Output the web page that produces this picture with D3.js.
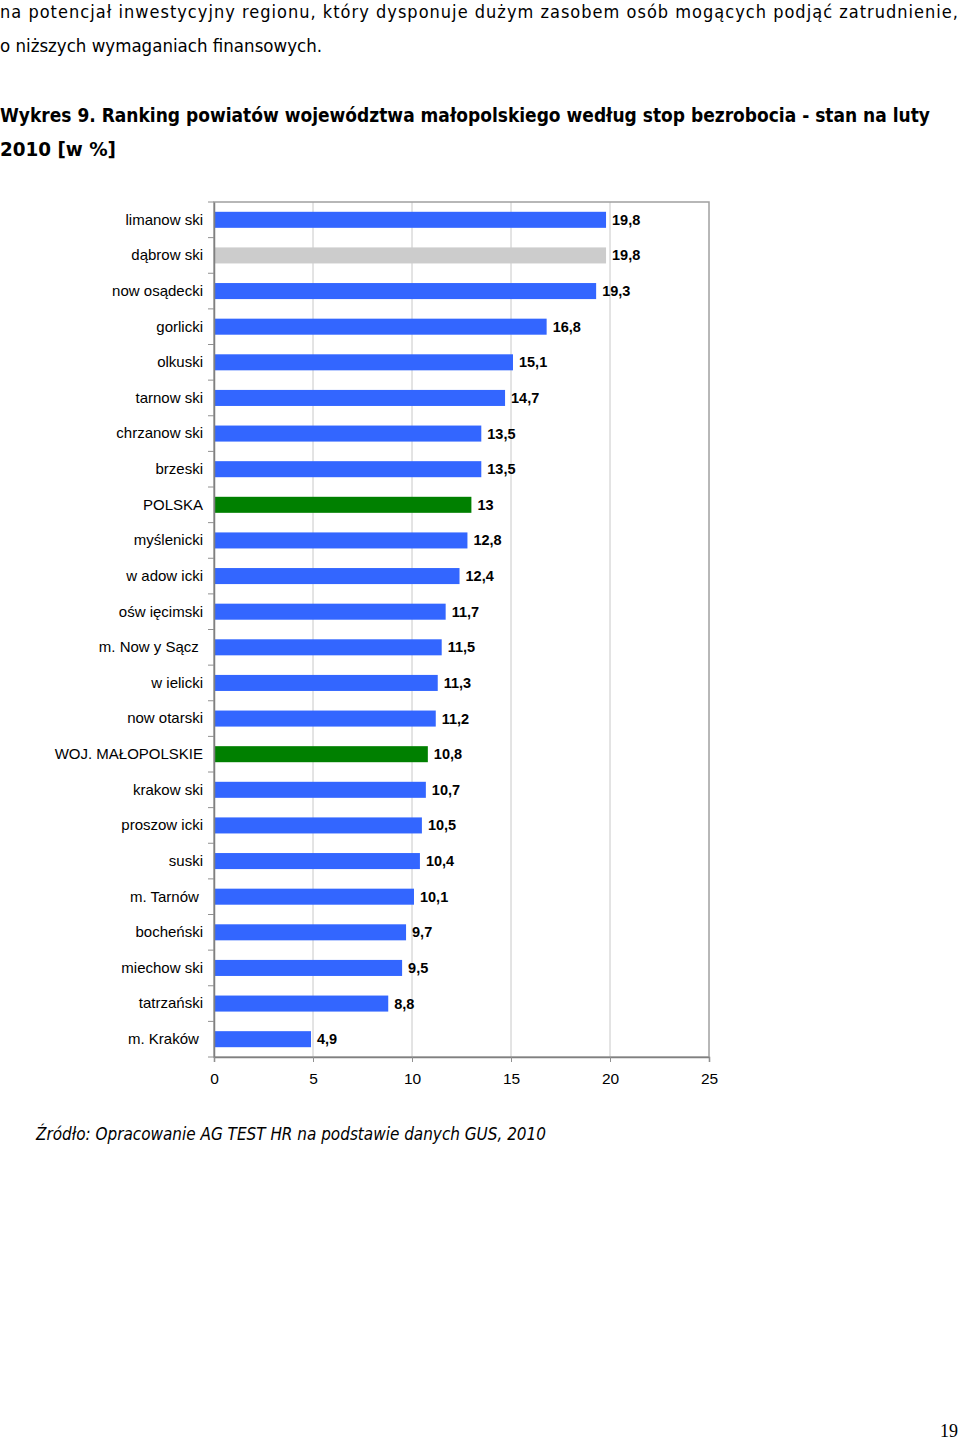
<!DOCTYPE html>
<html><head><meta charset="utf-8">
<script src="https://cdn.jsdelivr.net/npm/d3@7"></script>
<style>body{margin:0;background:#fff}svg{display:block}</style>
</head><body>
<script>
const categories = ["limanow ski","dąbrow ski","now osądecki","gorlicki","olkuski","tarnow ski","chrzanow ski","brzeski","POLSKA","myślenicki","w adow icki","ośw ięcimski","m. Now y Sącz ","w ielicki","now otarski","WOJ. MAŁOPOLSKIE","krakow ski","proszow icki","suski","m. Tarnów ","bocheński","miechow ski","tatrzański","m. Kraków "];
const values = [19.8,19.8,19.3,16.8,15.1,14.7,13.5,13.5,13,12.8,12.4,11.7,11.5,11.3,11.2,10.8,10.7,10.5,10.4,10.1,9.7,9.5,8.8,4.9];
const valueLabels = ["19,8","19,8","19,3","16,8","15,1","14,7","13,5","13,5","13","12,8","12,4","11,7","11,5","11,3","11,2","10,8","10,7","10,5","10,4","10,1","9,7","9,5","8,8","4,9"];
const barKind = ["p","d","p","p","p","p","p","p","c","p","p","p","p","p","p","c","p","p","p","p","p","p","p","p"];
const xTicks = [0,5,10,15,20,25];
const colors = {p:"#3366ff", d:"#cccccc", c:"#008000"};

const svg = d3.select("body").append("svg").attr("width",960).attr("height",1440);

// body text
const tf = "Tahoma, 'DejaVu Sans Condensed', 'DejaVu Sans', sans-serif";
svg.append("text").attr("x",0).attr("y",18).attr("font-family",tf).attr("font-size",18)
  .attr("textLength",958).attr("lengthAdjust","spacing").attr("fill","#000")
  .text("na potencjał inwestycyjny regionu, który dysponuje dużym zasobem osób mogących podjąć zatrudnienie,");
svg.append("text").attr("x",0).attr("y",52).attr("font-family",tf).attr("font-size",18)
  .attr("textLength",322).attr("lengthAdjust","spacingAndGlyphs").attr("fill","#000")
  .text("o niższych wymaganiach finansowych.");
svg.append("text").attr("x",0).attr("y",122).attr("font-family",tf).attr("font-size",19).attr("font-weight","bold")
  .attr("textLength",930).attr("lengthAdjust","spacingAndGlyphs")
  .text("Wykres 9. Ranking powiatów województwa małopolskiego według stop bezrobocia - stan na luty");
svg.append("text").attr("x",0).attr("y",156).attr("font-family",tf).attr("font-size",19).attr("font-weight","bold")
  .attr("textLength",116).attr("lengthAdjust","spacingAndGlyphs")
  .text("2010 [w %]");

// chart
const pL=214, pR=709, pT=202, pB=1057;
const x = d3.scaleLinear().domain([0,25]).range([pL,pR]);
const y = d3.scaleBand().domain(categories).range([pT,pB]).paddingInner(0.55).paddingOuter(0.275);
const af = "Arial, 'Liberation Sans', sans-serif";

// gridlines
svg.append("g").selectAll("line").data(xTicks.slice(1,-1)).join("line")
  .attr("x1",d=>x(d)).attr("x2",d=>x(d)).attr("y1",pT).attr("y2",pB)
  .attr("stroke","#c8c8c8").attr("stroke-width",1);
// border
svg.append("rect").attr("x",pL).attr("y",pT).attr("width",pR-pL).attr("height",pB-pT)
  .attr("fill","none").attr("stroke","#a0a0a0").attr("stroke-width",1.5);

// bars
svg.append("g").selectAll("rect").data(categories).join("rect")
  .attr("x",x(0)+1).attr("y",d=>y(d)).attr("height",y.bandwidth())
  .attr("width",(d,i)=>x(values[i])-x(0)-1)
  .attr("fill",(d,i)=>colors[barKind[i]]);

// value labels
svg.append("g").selectAll("text").data(categories).join("text")
  .attr("x",(d,i)=>x(values[i])+6).attr("y",d=>y(d)+y.bandwidth()/2+5)
  .attr("font-family",af).attr("font-size",14.5).attr("font-weight","bold")
  .text((d,i)=>valueLabels[i]);

// y axis
const yAxis = d3.axisLeft(y).tickSize(0).tickPadding(11);
const gy = svg.append("g").attr("transform",`translate(${pL},0)`).call(yAxis);
gy.select(".domain").attr("stroke","#808080").attr("stroke-width",1.5);
gy.selectAll("text").attr("font-family",af).attr("font-size",15).attr("fill","#000").style("white-space","pre");
// category separator ticks
const step = y.step();
svg.append("g").selectAll("line").data(d3.range(categories.length+1)).join("line")
  .attr("x1",pL-6).attr("x2",pL).attr("y1",i=>pT+i*step).attr("y2",i=>pT+i*step)
  .attr("stroke","#909090");

// x axis
const gx = svg.append("g").attr("transform",`translate(0,${pB})`)
  .call(d3.axisBottom(x).tickValues(xTicks).tickSize(5).tickPadding(11));
gx.select(".domain").attr("stroke","#808080").attr("stroke-width",1.5);
gx.selectAll(".tick line").attr("stroke","#909090");
gx.selectAll("text").attr("font-family",af).attr("font-size",15.5).attr("fill","#000");

// source
svg.append("text").attr("x",36).attr("y",1140).attr("font-family",tf).attr("font-size",17).attr("font-style","italic")
  .attr("textLength",510).attr("lengthAdjust","spacingAndGlyphs")
  .text("Źródło: Opracowanie AG TEST HR na podstawie danych GUS, 2010");

// page number
svg.append("text").attr("x",958).attr("y",1437).attr("text-anchor","end")
  .attr("font-family","'Liberation Serif', 'DejaVu Serif', serif").attr("font-size",18).text("19");
</script>
</body></html>
